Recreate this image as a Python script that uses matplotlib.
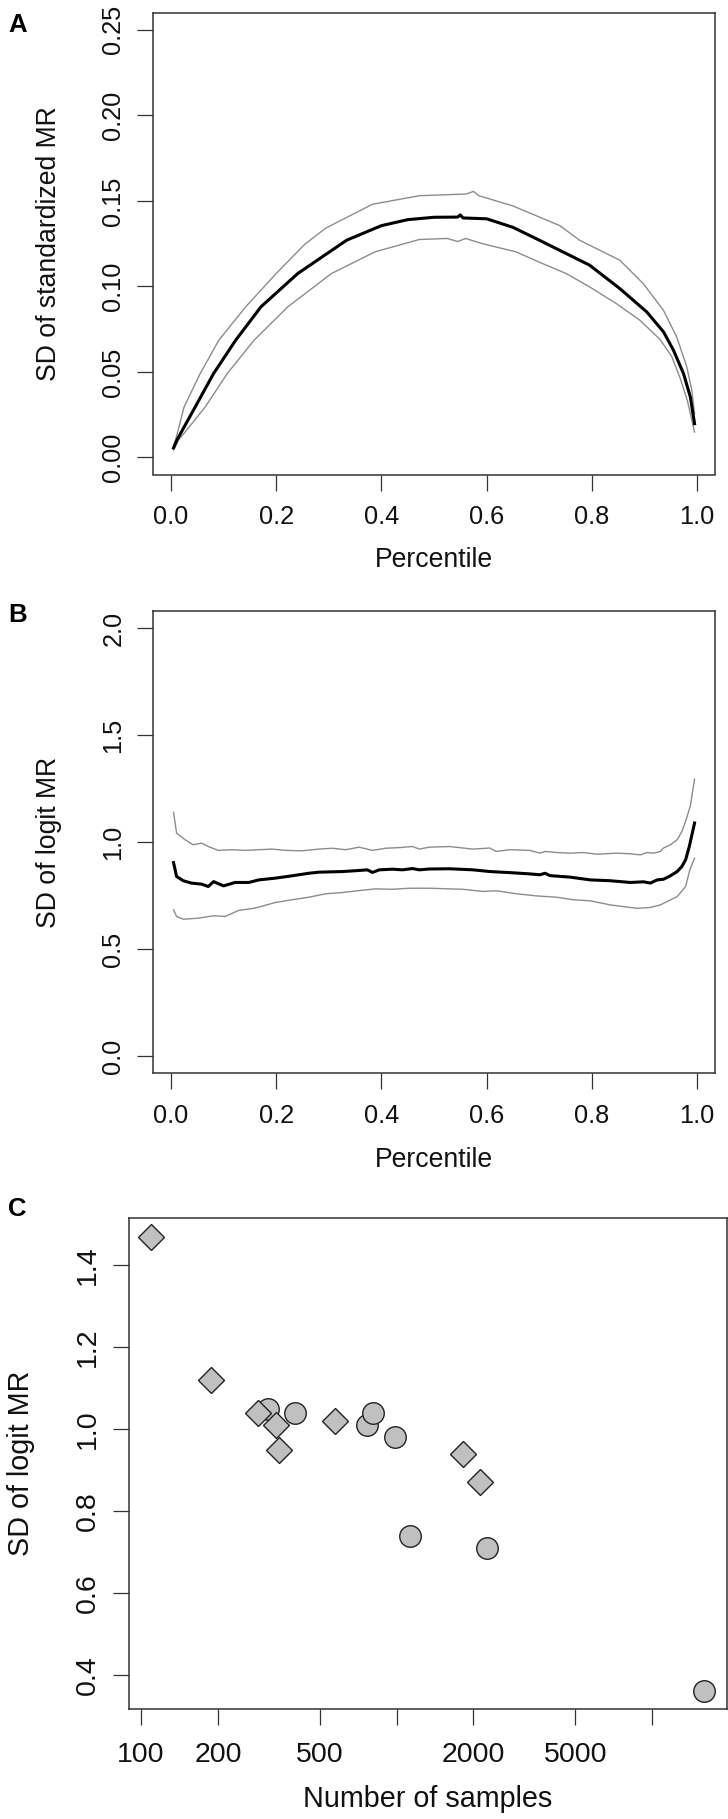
import numpy as np
import matplotlib
matplotlib.use('Agg')
import matplotlib.pyplot as plt
from matplotlib.ticker import FixedLocator, FixedFormatter, NullLocator

plt.rcParams['font.family'] = ['Liberation Sans', 'DejaVu Sans']

# ---------------- Data ----------------
# Panel A: SD of standardized MR vs percentile
meanA_p = [0.005, 0.011, 0.046, 0.081, 0.123, 0.171, 0.241, 0.334, 0.40, 0.45, 0.50,
           0.545, 0.55, 0.555, 0.60, 0.65, 0.70, 0.7955, 0.853, 0.904, 0.936, 0.955,
           0.974, 0.987, 0.995]
meanA_v = [0.0055, 0.0099, 0.0294, 0.049, 0.0685, 0.088, 0.1075, 0.127, 0.1355, 0.139,
           0.1404, 0.1405, 0.1418, 0.1400, 0.1395, 0.1345, 0.127, 0.1124, 0.0987, 0.0851,
           0.0734, 0.0626, 0.049, 0.0353, 0.0197]
upperA_p = [0.005, 0.0096, 0.0249, 0.0556, 0.091, 0.142, 0.20, 0.254, 0.294, 0.383, 0.472,
            0.561, 0.575, 0.585, 0.65, 0.739, 0.7764, 0.853, 0.8975, 0.9357, 0.9611,
            0.9803, 0.9898, 0.995]
upperA_v = [0.0065, 0.0110, 0.0294, 0.049, 0.0685, 0.088, 0.1075, 0.1245, 0.1340, 0.148,
            0.153, 0.154, 0.1555, 0.153, 0.147, 0.1355, 0.127, 0.1153, 0.1016, 0.0861,
            0.0704, 0.0529, 0.0392, 0.0256]
lowerA_p = [0.005, 0.014, 0.065, 0.107, 0.158, 0.222, 0.305, 0.388, 0.472, 0.525, 0.545,
            0.56, 0.5917, 0.6554, 0.7064, 0.751, 0.7955, 0.8465, 0.891, 0.9293, 0.9516,
            0.9675, 0.9815, 0.995]
lowerA_v = [0.0045, 0.0099, 0.0294, 0.049, 0.0685, 0.088, 0.1075, 0.1202, 0.1274, 0.128,
            0.1262, 0.128, 0.125, 0.1202, 0.1133, 0.1075, 0.0997, 0.0899, 0.0802, 0.0690,
            0.0590, 0.0465, 0.0330, 0.0148]

# Panel B: SD of logit MR vs percentile
meanB_p = [0.005, 0.0108, 0.0235, 0.039, 0.0585, 0.071, 0.081, 0.100, 0.122, 0.148, 0.167,
           0.198, 0.230, 0.262, 0.281, 0.326, 0.3575, 0.373, 0.383, 0.396, 0.421, 0.440,
           0.459, 0.472, 0.491, 0.529, 0.574, 0.606, 0.644, 0.682, 0.701, 0.711, 0.720,
           0.758, 0.797, 0.835, 0.873, 0.898, 0.911, 0.924, 0.936, 0.949, 0.962, 0.971,
           0.978, 0.985, 0.995]
meanB_v = [0.905, 0.840, 0.820, 0.809, 0.804, 0.793, 0.816, 0.796, 0.812, 0.812, 0.824,
           0.832, 0.843, 0.855, 0.860, 0.863, 0.868, 0.871, 0.859, 0.871, 0.874, 0.871,
           0.877, 0.871, 0.875, 0.876, 0.871, 0.863, 0.858, 0.852, 0.848, 0.855, 0.844,
           0.837, 0.824, 0.820, 0.812, 0.815, 0.809, 0.824, 0.827, 0.843, 0.863, 0.887,
           0.918, 0.980, 1.09]
upperB_p = [0.005, 0.0108, 0.0267, 0.0426, 0.0585, 0.071, 0.090, 0.116, 0.141, 0.167, 0.192,
            0.2176, 0.249, 0.281, 0.3066, 0.332, 0.3575, 0.383, 0.408, 0.434, 0.459, 0.472,
            0.491, 0.529, 0.574, 0.606, 0.618, 0.644, 0.682, 0.701, 0.711, 0.733, 0.758,
            0.784, 0.809, 0.847, 0.873, 0.892, 0.905, 0.917, 0.930, 0.936, 0.949, 0.962,
            0.971, 0.978, 0.987, 0.995]
upperB_v = [1.14, 1.043, 1.012, 0.988, 0.996, 0.980, 0.962, 0.965, 0.962, 0.965, 0.968,
            0.962, 0.960, 0.968, 0.972, 0.965, 0.977, 0.962, 0.972, 0.975, 0.980, 0.968,
            0.977, 0.980, 0.968, 0.973, 0.957, 0.965, 0.962, 0.949, 0.957, 0.952, 0.949,
            0.952, 0.944, 0.949, 0.946, 0.941, 0.952, 0.949, 0.957, 0.973, 0.988, 1.012,
            1.051, 1.098, 1.17, 1.295]
lowerB_p = [0.005, 0.0108, 0.0235, 0.052, 0.081, 0.103, 0.1285, 0.160, 0.198, 0.230, 0.262,
            0.294, 0.326, 0.3575, 0.389, 0.421, 0.453, 0.491, 0.555, 0.593, 0.618, 0.657,
            0.695, 0.733, 0.765, 0.797, 0.835, 0.860, 0.886, 0.911, 0.930, 0.943, 0.962,
            0.978, 0.986, 0.995]
lowerB_v = [0.684, 0.653, 0.640, 0.645, 0.656, 0.653, 0.681, 0.692, 0.718, 0.731, 0.743,
            0.759, 0.765, 0.774, 0.782, 0.780, 0.785, 0.785, 0.780, 0.770, 0.773, 0.759,
            0.749, 0.743, 0.731, 0.726, 0.707, 0.699, 0.691, 0.695, 0.707, 0.723, 0.746,
            0.793, 0.871, 0.926]

# Panel C: SD of logit MR vs number of samples
circle_n = [313, 399, 766, 809, 982, 1133, 2256, 16022]
circle_sd = [1.05, 1.04, 1.01, 1.04, 0.98, 0.74, 0.71, 0.36]
diamond_n = [109, 188, 287, 336, 346, 573, 1813, 2118]
diamond_sd = [1.47, 1.12, 1.04, 1.01, 0.95, 1.02, 0.94, 0.87]

ticksA_x = [0.0, 0.2, 0.4, 0.6, 0.8, 1.0]
labelsA_x = ["0.0", "0.2", "0.4", "0.6", "0.8", "1.0"]
ticksA_y = [0.0, 0.05, 0.10, 0.15, 0.20, 0.25]
labelsA_y = ["0.00", "0.05", "0.10", "0.15", "0.20", "0.25"]
ticksB_y = [0.0, 0.5, 1.0, 1.5, 2.0]
labelsB_y = ["0.0", "0.5", "1.0", "1.5", "2.0"]
ticksC_x = [100, 200, 500, 1000, 2000, 5000, 10000]
labelsC_x = ["100", "200", "500", "", "2000", "5000", ""]
ticksC_y = [0.4, 0.6, 0.8, 1.0, 1.2, 1.4]
labelsC_y = ["0.4", "0.6", "0.8", "1.0", "1.2", "1.4"]

# ---------------- Layout ----------------
W, H = 728, 1819
fig = plt.figure(figsize=(W / 100, H / 100), dpi=100)


def box(l, t, r, b):
    return [l / W, 1 - b / H, (r - l) / W, (b - t) / H]


def rlim(lo, hi):
    d = (hi - lo) * 0.04
    return lo - d, hi + d


BOXC = '#333333'
GRAY = '#8c8c8c'


def style(ax, fs, padx, pady):
    for s in ax.spines.values():
        s.set_color(BOXC)
        s.set_linewidth(1.1)
    ax.tick_params(axis='both', which='major', direction='out', length=11.5,
                   width=0.9, color=BOXC, labelsize=fs, labelcolor='#111111')
    ax.tick_params(axis='x', pad=padx)
    ax.tick_params(axis='y', pad=pady, labelrotation=90)
    ax.tick_params(axis='both', which='minor', length=0)
    plt.setp(ax.get_yticklabels(), va='center')


def set_ticks(axis, ticks, labels):
    axis.set_major_locator(FixedLocator(ticks))
    axis.set_major_formatter(FixedFormatter(labels))
    axis.set_minor_locator(NullLocator())


# Panel A
axA = fig.add_axes(box(152.7, 12.7, 715.4, 474.5))
axA.plot(upperA_p, upperA_v, color=GRAY, lw=1.0)
axA.plot(lowerA_p, lowerA_v, color=GRAY, lw=1.0)
axA.plot(meanA_p, meanA_v, color='black', lw=2.2)
axA.set_xlim(*rlim(0.005, 0.995))
axA.set_ylim(*rlim(0.0, 0.25))
set_ticks(axA.xaxis, ticksA_x, labelsA_x)
set_ticks(axA.yaxis, ticksA_y, labelsA_y)
style(axA, 18.3, 10.8, 8.2)

# Panel B
axB = fig.add_axes(box(152.7, 611.3, 715.4, 1073.2))
axB.plot(upperB_p, upperB_v, color=GRAY, lw=1.0)
axB.plot(lowerB_p, lowerB_v, color=GRAY, lw=1.0)
axB.plot(meanB_p, meanB_v, color='black', lw=2.2)
axB.set_xlim(*rlim(0.005, 0.995))
axB.set_ylim(*rlim(0.0, 2.0))
set_ticks(axB.xaxis, ticksA_x, labelsA_x)
set_ticks(axB.yaxis, ticksB_y, labelsB_y)
style(axB, 18.3, 10.8, 8.2)

# Panel C
axC = fig.add_axes(box(128.5, 1218.4, 726.5, 1709.3))
axC.set_xscale('log')
axC.plot(circle_n, circle_sd, linestyle='none', marker='o', ms=15.5,
         mfc='#c0c0c0', mec='#222222', mew=1.0, zorder=3)
axC.plot(diamond_n, diamond_sd, linestyle='none', marker='D', ms=12.8,
         mfc='#c0c0c0', mec='#222222', mew=1.0, zorder=4)
all_n = circle_n + diamond_n
all_sd = circle_sd + diamond_sd
lx = rlim(np.log10(min(all_n)), np.log10(max(all_n)))
axC.set_xlim(10 ** lx[0], 10 ** lx[1])
axC.set_ylim(*rlim(min(all_sd), max(all_sd)))
set_ticks(axC.xaxis, ticksC_x, labelsC_x)
set_ticks(axC.yaxis, ticksC_y, labelsC_y)
style(axC, 20.5, 12.0, 8.4)

# Axis labels and panel letters
def ftext(x, y, s, **kw):
    fig.text(x / W, 1 - y / H, s, **kw)


ftext(434, 567, 'Percentile', fontsize=19.2, ha='center', va='baseline', color='#111111')
ftext(434, 1167, 'Percentile', fontsize=19.2, ha='center', va='baseline', color='#111111')
ftext(427.9, 1807.4, 'Number of samples', fontsize=20.7, ha='center', va='baseline',
      color='#111111')
ftext(56, 243.6, 'SD of standardized MR', fontsize=19.2, rotation=90,
      rotation_mode='anchor', ha='center', va='baseline', color='#111111')
ftext(56, 842.3, 'SD of logit MR', fontsize=19.2, rotation=90,
      rotation_mode='anchor', ha='center', va='baseline', color='#111111')
ftext(29, 1463.8, 'SD of logit MR', fontsize=20.7, rotation=90,
      rotation_mode='anchor', ha='center', va='baseline', color='#111111')

ftext(17.5, 32, 'A', fontsize=18.5, fontweight='bold', ha='center', va='baseline')
ftext(17.5, 621.7, 'B', fontsize=18.5, fontweight='bold', ha='center', va='baseline')
ftext(17.5, 1216.5, 'C', fontsize=18.5, fontweight='bold', ha='center', va='baseline')

fig.savefig('out.png', dpi=100)
